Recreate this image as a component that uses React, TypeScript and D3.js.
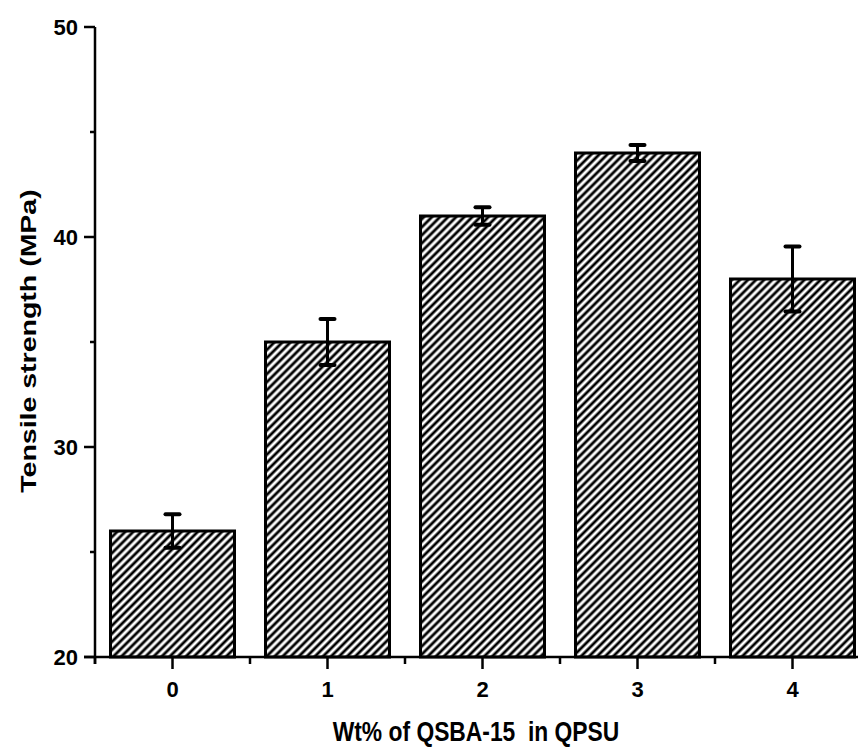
import React from "react";
import * as d3 from "d3";

const categories = ["0", "1", "2", "3", "4"];
const strengths = [26, 35, 41, 44, 38];
const errors = [0.8, 1.1, 0.42, 0.38, 1.55];
const yTicks = [20, 30, 40, 50];
const yMinorTicks = [25, 35, 45];

const W = 858;
const H = 749;
const left = 95;
const top = 27;
const bottom = 657;
const FONT = "'Liberation Sans', Arial, sans-serif";

export default function App() {
  const x = d3.scaleLinear().domain([-0.5, 4.5]).range([left, left + 775]);
  const y = d3.scaleLinear().domain([20, 50]).range([bottom, top]);
  const barW = (x(1) - x(0)) * 0.8;
  const minorX = d3.range(-0.5, 5, 1);
  const P = 5.7;

  return (
    <svg width={W} height={H} style={{ position: "absolute", left: 0, top: 0, background: "#fff" }}>
      <defs>
        <pattern id="hatch" patternUnits="userSpaceOnUse" width={P} height={P} patternTransform="rotate(45)">
          <rect width={P} height={P} fill="#fff" />
          <line x1={P / 2} y1={0} x2={P / 2} y2={P} stroke="#000" strokeWidth={2.8} />
        </pattern>
      </defs>
      {strengths.map((v, i) => (
        <rect
          key={"b" + i}
          x={x(i) - barW / 2}
          y={y(v)}
          width={barW}
          height={y(20) - y(v)}
          fill="url(#hatch)"
          stroke="#000"
          strokeWidth={3}
        />
      ))}
      {strengths.map((v, i) => (
        <g key={"e" + i} stroke="#000" strokeWidth={3}>
          <line x1={x(i)} x2={x(i)} y1={y(v + errors[i])} y2={y(v - errors[i])} />
          <line x1={x(i) - 7} x2={x(i) + 7} y1={y(v + errors[i])} y2={y(v + errors[i])} strokeWidth={4} strokeLinecap="round" />
          <line x1={x(i) - 7} x2={x(i) + 7} y1={y(v - errors[i])} y2={y(v - errors[i])} strokeWidth={4} strokeLinecap="round" />
        </g>
      ))}
      <line x1={left} x2={left} y1={top} y2={bottom + 7} stroke="#000" strokeWidth={2.5} />
      <line x1={left - 11} x2={W} y1={bottom} y2={bottom} stroke="#000" strokeWidth={2.5} />
      {yTicks.map((t) => (
        <g key={"yt" + t}>
          <line x1={left - 11} x2={left} y1={y(t)} y2={y(t)} stroke="#000" strokeWidth={2.5} />
          <text x={78} y={y(t) + 7.5} textAnchor="end" fontFamily={FONT} fontWeight="bold" fontSize={22}>
            {t}
          </text>
        </g>
      ))}
      {yMinorTicks.map((t) => (
        <line key={"ym" + t} x1={left - 5} x2={left} y1={y(t)} y2={y(t)} stroke="#000" strokeWidth={2.5} />
      ))}
      {categories.map((c, i) => (
        <g key={"xt" + i}>
          <line x1={x(i)} x2={x(i)} y1={bottom} y2={bottom + 12} stroke="#000" strokeWidth={2.5} />
          <text x={x(i)} y={697} textAnchor="middle" fontFamily={FONT} fontWeight="bold" fontSize={22}>
            {c}
          </text>
        </g>
      ))}
      {minorX.map((t) => (
        <line key={"xm" + t} x1={x(t)} x2={x(t)} y1={bottom} y2={bottom + 7} stroke="#000" strokeWidth={2.5} />
      ))}
      <text
        transform="translate(476, 741) scale(0.83, 1)"
        textAnchor="middle"
        fontFamily={FONT}
        fontWeight="bold"
        fontSize={27.5}
        style={{ whiteSpace: "pre" }}
      >
        {"Wt% of QSBA-15  in QPSU"}
      </text>
      <text
        transform="translate(36, 341) rotate(-90) scale(1, 0.8)"
        textAnchor="middle"
        fontFamily={FONT}
        fontWeight="bold"
        fontSize={28.5}
      >
        Tensile strength (MPa)
      </text>
    </svg>
  );
}
